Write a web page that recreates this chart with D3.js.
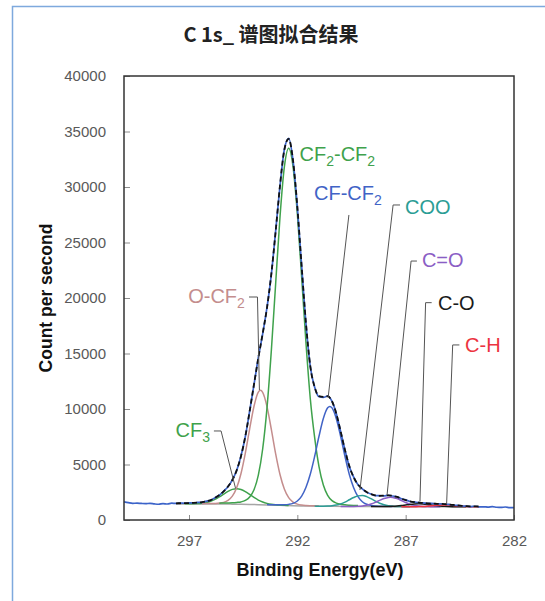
<!DOCTYPE html>
<html>
<head>
<meta charset="utf-8">
<script src="https://cdn.jsdelivr.net/npm/d3@7"></script>
<style>
  body { margin: 0; background: #fff; }
  svg { display: block; }
</style>
</head>
<body>
<div id="chart"></div>
<script>
"use strict";

// ---- data (binding energy in eV, counts per second) ----
var titleText = "C 1s_ 谱图拟合结果";
var xTicks = [297, 292, 287, 282];
var yTicks = [0, 5000, 10000, 15000, 20000, 25000, 30000, 35000, 40000];

// measured spectrum
var dataEnergy = [300.0, 299.8, 299.6, 299.4, 299.2, 299.0, 298.8, 298.6, 298.4, 298.2,
  298.0, 297.8, 297.6, 297.4, 297.2, 297.0, 296.8, 296.6, 296.4, 296.2,
  296.0, 295.8, 295.6, 295.4, 295.2, 295.0, 294.8, 294.6, 294.4, 294.2,
  294.0, 293.8, 293.6, 293.4, 293.2, 293.0, 292.8, 292.6, 292.4, 292.2,
  292.0, 291.8, 291.6, 291.4, 291.2, 291.0, 290.8, 290.6, 290.4, 290.2,
  290.0, 289.8, 289.6, 289.4, 289.2, 289.0, 288.8, 288.6, 288.4, 288.2,
  288.0, 287.8, 287.6, 287.4, 287.2, 287.0, 286.8, 286.6, 286.4, 286.2,
  286.0, 285.8, 285.6, 285.4, 285.2, 285.0, 284.8, 284.6, 284.4, 284.2,
  284.0, 283.8, 283.6, 283.4, 283.2, 283.0, 282.8, 282.6, 282.4, 282.2, 282.0];
var dataCounts = [1640, 1560, 1500, 1520, 1490, 1470, 1500, 1450, 1420, 1480,
  1440, 1520, 1490, 1530, 1510, 1540, 1530, 1580, 1590, 1700,
  1780, 2010, 2230, 2600, 3000, 3620, 4460, 5780, 7520, 9820,
  12200, 14640, 16760, 19150, 22130, 26050, 30100, 33380, 34380, 32400,
  28200, 22850, 17650, 13800, 11950, 11100, 11050, 11170, 10680, 9580,
  7950, 6300, 4830, 3870, 3170, 2800, 2490, 2340, 2190, 2200,
  2170, 2230, 2160, 2090, 1910, 1810, 1670, 1630, 1560, 1550,
  1490, 1490, 1450, 1460, 1420, 1410, 1340, 1320, 1260, 1250,
  1210, 1240, 1190, 1190, 1160, 1200, 1150, 1130, 1170, 1120, 1110];

// fit envelope (sum of components)
var fitEnergy = [297.6, 297.4, 297.2, 297.0, 296.8, 296.6, 296.4, 296.2, 296.0, 295.8,
  295.6, 295.4, 295.2, 295.0, 294.8, 294.6, 294.4, 294.2, 294.0, 293.8,
  293.6, 293.4, 293.2, 293.0, 292.8, 292.6, 292.4, 292.2, 292.0, 291.8,
  291.6, 291.4, 291.2, 291.0, 290.8, 290.6, 290.4, 290.2, 290.0, 289.8,
  289.6, 289.4, 289.2, 289.0, 288.8, 288.6, 288.4, 288.2, 288.0, 287.8,
  287.6, 287.4, 287.2, 287.0, 286.8, 286.6, 286.4, 286.2, 286.0, 285.8,
  285.6, 285.4, 285.2, 285.0, 284.8, 284.6, 284.4, 284.2, 284.0, 283.8, 283.6];
var fitCounts = [1504, 1511, 1519, 1527, 1540, 1562, 1603, 1678, 1797, 1987,
  2249, 2580, 3017, 3604, 4475, 5749, 7546, 9796, 12230, 14603,
  16794, 19116, 22168, 26004, 30141, 33346, 34334, 32414, 28211, 22829,
  17673, 13834, 11965, 11154, 11096, 11155, 10700, 9571, 7971, 6280,
  4855, 3849, 3189, 2793, 2521, 2332, 2215, 2181, 2201, 2215,
  2180, 2075, 1932, 1794, 1688, 1616, 1572, 1536, 1502, 1479,
  1463, 1452, 1433, 1400, 1355, 1309, 1271, 1244, 1230, 1221, 1217];

// background
var bgEnergy = [297.6, 296.6, 295.6, 295.0, 294.6, 294.2, 293.8, 293.4, 293.0, 292.6,
  292.2, 291.8, 291.4, 291.0, 290.4, 289.6, 288.6, 287.4, 286.0, 284.6, 283.6];
var bgCounts = [1450, 1447, 1439, 1429, 1418, 1403, 1384, 1362, 1338, 1312,
  1287, 1266, 1251, 1240, 1228, 1215, 1206, 1199, 1194, 1190, 1190];

// fitted components
var cf3Energy = [297.2, 297.0, 296.8, 296.6, 296.4, 296.2, 296.0, 295.8, 295.6, 295.4,
  295.2, 295.0, 294.8, 294.6, 294.4, 294.2, 294.0, 293.8, 293.6, 293.4,
  293.2, 293.0, 292.8, 292.6, 292.4];
var cf3Counts = [1458, 1460, 1467, 1482, 1516, 1580, 1688, 1855, 2077, 2332,
  2578, 2759, 2824, 2748, 2556, 2299, 2032, 1798, 1618, 1497,
  1420, 1373, 1344, 1323, 1307];

var ocf2Energy = [296.4, 296.2, 296.0, 295.8, 295.6, 295.4, 295.2, 295.0, 294.8, 294.6,
  294.4, 294.2, 294.0, 293.8, 293.7, 293.6, 293.4, 293.2, 293.0, 292.8,
  292.6, 292.4, 292.2, 292.0, 291.8, 291.6, 291.4, 291.2, 291.0];
var ocf2Counts = [1474, 1478, 1483, 1494, 1521, 1587, 1761, 2144, 2905, 4193,
  6033, 8212, 10248, 11514, 11678, 11503, 10216, 8159, 5960, 4100,
  2793, 2014, 1615, 1427, 1348, 1311, 1291, 1278, 1268];

var cf2Energy = [295.6, 295.4, 295.2, 295.0, 294.8, 294.6, 294.4, 294.2, 294.0, 293.8,
  293.6, 293.4, 293.2, 293.0, 292.8, 292.6, 292.4, 292.2, 292.0, 291.8,
  291.6, 291.4, 291.2, 291.0, 290.8, 290.6, 290.4, 290.2, 290.0, 289.8,
  289.6, 289.4, 289.2];
var cf2Counts = [1519, 1523, 1533, 1548, 1582, 1631, 1765, 2076, 2721, 4041,
  6399, 10104, 15260, 21312, 27301, 31789, 33499, 31864, 27612, 21850,
  15918, 10893, 7421, 4811, 3149, 2227, 1743, 1523, 1414, 1363,
  1334, 1313, 1298];

var cfEnergy = [293.4, 293.2, 293.0, 292.8, 292.6, 292.4, 292.2, 292.0, 291.8, 291.6,
  291.4, 291.2, 291.0, 290.8, 290.6, 290.5, 290.4, 290.2, 290.0, 289.8,
  289.6, 289.4, 289.2, 289.0, 288.8, 288.6, 288.4, 288.2, 288.0, 287.8, 287.6];
var cfCounts = [1386, 1378, 1372, 1369, 1374, 1408, 1499, 1715, 2154, 2951,
  4141, 5745, 7543, 9139, 10106, 10230, 10102, 9127, 7524, 5718,
  4105, 2906, 2099, 1648, 1419, 1315, 1266, 1247, 1236, 1229, 1224];

var cooEnergy = [291.2, 291.0, 290.8, 290.6, 290.4, 290.2, 290.0, 289.8, 289.6, 289.4,
  289.2, 289.0, 288.8, 288.6, 288.4, 288.2, 288.0, 287.8, 287.6, 287.4,
  287.2, 287.0, 286.8];
var cooCounts = [1250, 1247, 1249, 1258, 1286, 1345, 1454, 1615, 1823, 2028,
  2173, 2205, 2108, 1921, 1704, 1512, 1372, 1285, 1239, 1217,
  1207, 1203, 1201];

var carbonylEnergy = [290.0, 289.8, 289.6, 289.4, 289.2, 289.0, 288.8, 288.6, 288.4, 288.2,
  288.0, 287.8, 287.7, 287.6, 287.4, 287.2, 287.0, 286.8, 286.6, 286.4,
  286.2, 286.0, 285.8, 285.6, 285.4];
var carbonylCounts = [1224, 1222, 1222, 1225, 1238, 1268, 1329, 1435, 1585, 1765,
  1933, 2037, 2050, 2036, 1930, 1760, 1578, 1425, 1317, 1254,
  1221, 1206, 1200, 1197, 1195];

var etherEnergy = [288.6, 288.4, 288.2, 288.0, 287.8, 287.6, 287.4, 287.2, 287.0, 286.8,
  286.6, 286.4, 286.2, 286.0, 285.8, 285.6, 285.4, 285.2, 285.0, 284.8,
  284.6, 284.4, 284.2];
var etherCounts = [1207, 1206, 1207, 1211, 1219, 1236, 1263, 1303, 1353, 1402,
  1440, 1455, 1439, 1400, 1349, 1298, 1256, 1228, 1209, 1200,
  1194, 1192, 1191];

var chEnergy = [287.2, 287.0, 286.8, 286.6, 286.4, 286.2, 286.0, 285.8, 285.6, 285.4,
  285.2, 285.0, 284.8, 284.6, 284.4, 284.2, 284.0, 283.8, 283.6];
var chCounts = [1199, 1198, 1198, 1200, 1207, 1220, 1244, 1278, 1318, 1350,
  1362, 1349, 1316, 1275, 1240, 1216, 1202, 1195, 1192];

// ---- styling ----
var componentColors = ["#3fa24c", "#c48d8d", "#3fa24c", "#4163c6", "#2b9d95", "#8b5ec5", "#1a1a1a", "#ec3340"];
var components = [
  { energy: cf3Energy, counts: cf3Counts },
  { energy: ocf2Energy, counts: ocf2Counts },
  { energy: cf2Energy, counts: cf2Counts },
  { energy: cfEnergy, counts: cfCounts },
  { energy: cooEnergy, counts: cooCounts },
  { energy: carbonylEnergy, counts: carbonylCounts },
  { energy: etherEnergy, counts: etherCounts },
  { energy: chEnergy, counts: chCounts }
];

// label layout (data coordinates: [eV, cps]); second item 1 = subscript piece
var annotations = [
  { parts: [["CF"], ["2", 1], ["-CF"], ["2", 1]], color: "#3fa24c", at: [291.9, 32300], anchor: "start" },
  { parts: [["CF-CF"], ["2", 1]], color: "#4163c6", at: [291.23, 28830], anchor: "start",
    lead: [[289.62, 27480], [290.58, 11000]] },
  { parts: [["O-CF"], ["2", 1]], color: "#c48d8d", at: [294.42, 19550], anchor: "end",
    lead: [[294.23, 20090], [293.84, 20090], [293.75, 11710]] },
  { parts: [["CF"], ["3", 1]], color: "#3fa24c", at: [296.03, 7480], anchor: "end",
    lead: [[295.85, 8020], [295.52, 8020], [294.85, 2840]] },
  { parts: [["COO"]], color: "#2b9d95", at: [287.03, 27610], anchor: "start",
    lead: [[287.26, 28380], [287.58, 28380], [289.11, 2700]] },
  { parts: [["C=O"]], color: "#8b5ec5", at: [286.25, 22750], anchor: "start",
    lead: [[286.48, 23330], [286.75, 23330], [287.86, 2250]] },
  { parts: [["C-O"]], color: "#1a1a1a", at: [285.51, 18920], anchor: "start",
    lead: [[285.80, 19580], [286.08, 19580], [286.34, 1650]] },
  { parts: [["C-H"]], color: "#ec3340", at: [284.26, 15140], anchor: "start",
    lead: [[284.52, 15770], [284.83, 15770], [285.11, 1440]] }
];

var width = 545, height = 601;
var margin = { top: 76, right: 31, bottom: 81, left: 124 };
var innerWidth = width - margin.left - margin.right;
var innerHeight = height - margin.top - margin.bottom;

var svg = d3.select("#chart").append("svg")
  .attr("width", width).attr("height", height);

// outer frame (its right and bottom sides lie outside the picture)
svg.append("path")
  .attr("d", "M12.5," + height + "V6.5H" + width)
  .attr("fill", "none").attr("stroke", "#7ea9dd").attr("stroke-width", 1.5);

svg.append("text")
  .attr("x", 271).attr("y", 42)
  .attr("text-anchor", "middle")
  .attr("font-family", "'Noto Sans CJK SC', 'Noto Sans', sans-serif")
  .attr("font-size", 20).attr("font-weight", "bold")
  .attr("fill", "#222")
  .text(titleText);

var x = d3.scaleLinear().domain([300, 282]).range([margin.left, margin.left + innerWidth]);
var y = d3.scaleLinear().domain([0, 40000]).range([margin.top + innerHeight, margin.top]);

// axes, ticks pointing inside
var yAxisG = svg.append("g")
  .attr("transform", "translate(" + margin.left + ",0)")
  .call(d3.axisLeft(y).tickValues(yTicks).tickFormat(d3.format("d"))
    .tickSizeInner(-6).tickSizeOuter(0).tickPadding(18));
var xAxisG = svg.append("g")
  .attr("transform", "translate(0," + (margin.top + innerHeight) + ")")
  .call(d3.axisBottom(x).tickValues(xTicks).tickFormat(d3.format("d"))
    .tickSizeInner(-5).tickSizeOuter(0).tickPadding(15));
[xAxisG, yAxisG].forEach(function (g) {
  g.select(".domain").remove();
  g.selectAll(".tick line").attr("stroke", "#8c8c8c");
  g.selectAll(".tick text")
    .attr("fill", "#595959")
    .attr("font-family", "'Liberation Sans', Arial, sans-serif")
    .attr("font-size", 15);
});

var line = d3.line()
  .x(function (d) { return x(d[0]); })
  .y(function (d) { return y(d[1]); })
  .curve(d3.curveMonotoneX);

function pairs(e, c) {
  return e.map(function (v, i) { return [v, c[i]]; });
}

var plot = svg.append("g");

plot.append("path")
  .attr("d", line(pairs(bgEnergy, bgCounts)))
  .attr("fill", "none").attr("stroke", "#a6a6a6").attr("stroke-width", 1.5);

plot.selectAll("path.component")
  .data(components)
  .enter().append("path")
  .attr("class", "component")
  .attr("d", function (d) { return line(pairs(d.energy, d.counts)); })
  .attr("fill", "none")
  .attr("stroke", function (d, i) { return componentColors[i]; })
  .attr("stroke-width", 1.5);

plot.append("path")
  .attr("d", line(pairs(dataEnergy, dataCounts)))
  .attr("fill", "none").attr("stroke", "#3b63c9").attr("stroke-width", 1.7);

plot.append("path")
  .attr("d", line(pairs(fitEnergy, fitCounts)))
  .attr("fill", "none").attr("stroke", "#111").attr("stroke-width", 1.8)
  .attr("stroke-dasharray", "5,3");

// plot frame
svg.append("rect")
  .attr("x", margin.left).attr("y", margin.top)
  .attr("width", innerWidth).attr("height", innerHeight)
  .attr("fill", "none").attr("stroke", "#333").attr("stroke-width", 1.5);

// component labels with leader lines
var leadLine = d3.line()
  .x(function (d) { return x(d[0]); })
  .y(function (d) { return y(d[1]); });

annotations.forEach(function (a) {
  if (a.lead) {
    svg.append("path")
      .attr("d", leadLine(a.lead))
      .attr("fill", "none").attr("stroke", "#555").attr("stroke-width", 1);
  }
  var t = svg.append("text")
    .attr("x", x(a.at[0])).attr("y", y(a.at[1]))
    .attr("text-anchor", a.anchor)
    .attr("font-family", "'Liberation Sans', Arial, sans-serif")
    .attr("font-size", 20)
    .attr("fill", a.color);
  var shift = 0;
  a.parts.forEach(function (p) {
    var want = p[1] ? 5 : 0;
    t.append("tspan")
      .attr("dy", want - shift)
      .attr("font-size", p[1] ? 14 : 20)
      .text(p[0]);
    shift = want;
  });
});

// axis titles
svg.append("text")
  .attr("x", 320).attr("y", 576)
  .attr("text-anchor", "middle")
  .attr("font-family", "'Liberation Sans', Arial, sans-serif")
  .attr("font-size", 18).attr("font-weight", "bold")
  .attr("fill", "#111")
  .text("Binding Energy(eV)");

svg.append("text")
  .attr("transform", "translate(52,298) rotate(-90)")
  .attr("text-anchor", "middle")
  .attr("font-family", "'Liberation Sans', Arial, sans-serif")
  .attr("font-size", 17.5).attr("font-weight", "bold")
  .attr("fill", "#111")
  .text("Count per second");
</script>
</body>
</html>
